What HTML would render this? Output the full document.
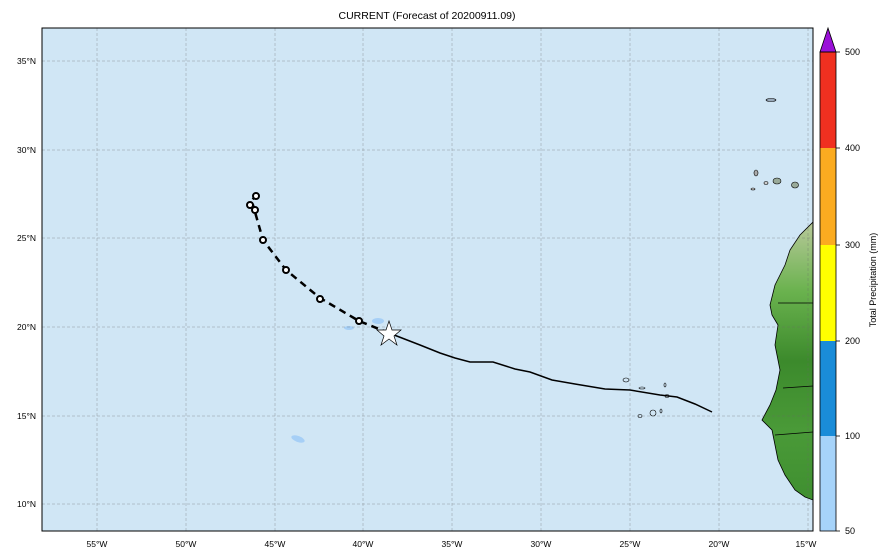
<!DOCTYPE html>
<html><head><style>
body{margin:0;background:#fff;}
svg{display:block;font-family:"Liberation Sans",sans-serif;}
</style></head><body>
<svg width="889" height="560" viewBox="0 0 889 560">
<defs><linearGradient id="af" x1="0" y1="0" x2="0" y2="1">
<stop offset="0" stop-color="#b8c99a"/><stop offset="0.25" stop-color="#6ab24e"/><stop offset="0.5" stop-color="#3c8a2c"/><stop offset="0.75" stop-color="#4a9a38"/><stop offset="1" stop-color="#3f8f30"/></linearGradient>
<clipPath id="c"><rect x="42" y="28" width="771" height="503"/></clipPath></defs>
<text x="427" y="19" font-size="10.5" text-anchor="middle">CURRENT (Forecast of 20200911.09)</text>
<rect x="42" y="28" width="771" height="503" fill="#d0e6f5"/>
<g clip-path="url(#c)">
<path d="M813,222 L800,235 790,250 785,265 775,285 770,305 772,315 778,325 775,345 780,370 776,390 770,405 762,420 772,430 775,445 778,460 785,475 795,490 805,497 813,500 Z" fill="url(#af)" stroke="#000" stroke-width="0.8"/>
<path d="M778,303 L813,303 M783,388 L813,386 M775,435 L813,432" stroke="#000" stroke-width="0.7" fill="none"/>
<ellipse cx="771" cy="100" rx="5" ry="1.5" fill="#9ab" stroke="#000" stroke-width="0.6"/>
<ellipse cx="756" cy="173" rx="2" ry="3" fill="#aaa" stroke="#000" stroke-width="0.6"/>
<ellipse cx="777" cy="181" rx="4" ry="3" fill="#9a9" stroke="#000" stroke-width="0.6"/>
<ellipse cx="795" cy="185" rx="3.5" ry="3" fill="#9a9" stroke="#000" stroke-width="0.6"/>
<ellipse cx="766" cy="183" rx="2" ry="1.5" fill="#ccc" stroke="#000" stroke-width="0.6"/>
<ellipse cx="753" cy="189" rx="2" ry="1" fill="#ccc" stroke="#000" stroke-width="0.6"/>
<g fill="#d0e6f5" stroke="#000" stroke-width="0.6">
<ellipse cx="626" cy="380" rx="3" ry="2"/><ellipse cx="642" cy="388" rx="3" ry="1"/><ellipse cx="665" cy="385" rx="1" ry="2"/><ellipse cx="667" cy="396" rx="2" ry="1.5"/><ellipse cx="653" cy="413" rx="3" ry="3"/><ellipse cx="640" cy="416" rx="2" ry="1.5"/><ellipse cx="661" cy="411" rx="1" ry="2"/></g>
<ellipse cx="378" cy="321" rx="6" ry="3" fill="#a6cff6"/>
<ellipse cx="349" cy="328" rx="5" ry="2" fill="#a6cff6"/>
<ellipse cx="298" cy="439" rx="7" ry="3" fill="#a6cff6" transform="rotate(20 298 439)"/>
<g stroke="#666" stroke-width="0.5" stroke-dasharray="3,2" opacity="0.6">
<line x1="97" y1="28" x2="97" y2="531"/><line x1="186" y1="28" x2="186" y2="531"/><line x1="275" y1="28" x2="275" y2="531"/><line x1="363" y1="28" x2="363" y2="531"/><line x1="452" y1="28" x2="452" y2="531"/><line x1="541" y1="28" x2="541" y2="531"/><line x1="630" y1="28" x2="630" y2="531"/><line x1="719" y1="28" x2="719" y2="531"/><line x1="808" y1="28" x2="808" y2="531"/>
<line x1="42" y1="61" x2="813" y2="61"/><line x1="42" y1="150" x2="813" y2="150"/><line x1="42" y1="238" x2="813" y2="238"/><line x1="42" y1="327" x2="813" y2="327"/><line x1="42" y1="416" x2="813" y2="416"/><line x1="42" y1="504" x2="813" y2="504"/>
</g>
<polyline points="389,333 420,345 440,353 455,358 470,362 493,362 515,369 530,372 552,380 575,384 605,389 630,390 660,395 677,397 695,404 712,412" fill="none" stroke="#000" stroke-width="1.5"/>
<polyline points="389,333 359,321 320,298 286,270 263,240 255,212 253,205 250,203 256,195" fill="none" stroke="#000" stroke-width="2.5" stroke-dasharray="7,5"/>
<g fill="#fff" stroke="#000" stroke-width="2">
<circle cx="359" cy="321" r="3"/><circle cx="320" cy="299" r="3"/><circle cx="286" cy="270" r="3"/><circle cx="263" cy="240" r="3"/><circle cx="255" cy="210" r="3"/><circle cx="250" cy="205" r="3"/><circle cx="256" cy="196" r="3"/></g>
<polygon points="389,321 392,330 401,330 394,336 397,345 389,339 381,345 384,336 377,330 386,330" fill="#fff" stroke="#000" stroke-width="0.7"/>
</g>
<rect x="42" y="28" width="771" height="503" fill="none" stroke="#000" stroke-width="1"/>
<g font-size="8.5" text-anchor="middle">
<text x="97" y="547">55°W</text><text x="186" y="547">50°W</text><text x="275" y="547">45°W</text><text x="363" y="547">40°W</text><text x="452" y="547">35°W</text><text x="541" y="547">30°W</text><text x="630" y="547">25°W</text><text x="719" y="547">20°W</text><text x="806" y="547">15°W</text>
</g>
<g font-size="8.5" text-anchor="end">
<text x="36" y="64">35°N</text><text x="36" y="153">30°N</text><text x="36" y="241">25°N</text><text x="36" y="330">20°N</text><text x="36" y="419">15°N</text><text x="36" y="507">10°N</text>
</g>
<rect x="820" y="436" width="16" height="95" fill="#a6d3f9"/>
<rect x="820" y="341" width="16" height="95" fill="#1a8cd8"/>
<rect x="820" y="245" width="16" height="96" fill="#ffff00"/>
<rect x="820" y="148" width="16" height="97" fill="#fbab20"/>
<rect x="820" y="52" width="16" height="96" fill="#f03020"/>
<polygon points="820,52 828,28 836,52" fill="#9a10d8" stroke="#000" stroke-width="0.8"/>
<rect x="820" y="52" width="16" height="479" fill="none" stroke="#000" stroke-width="0.8"/>
<g stroke="#000" stroke-width="0.8"><line x1="836" y1="531" x2="840" y2="531"/><line x1="836" y1="436" x2="840" y2="436"/><line x1="836" y1="341" x2="840" y2="341"/><line x1="836" y1="245" x2="840" y2="245"/><line x1="836" y1="148" x2="840" y2="148"/><line x1="836" y1="52" x2="840" y2="52"/></g>
<g font-size="9"><text x="845" y="534">50</text><text x="845" y="439">100</text><text x="845" y="344">200</text><text x="845" y="248">300</text><text x="845" y="151">400</text><text x="845" y="55">500</text></g>
<text transform="translate(876,280) rotate(-90)" font-size="9" text-anchor="middle">Total Precipitation (mm)</text>
</svg>
</body></html>
